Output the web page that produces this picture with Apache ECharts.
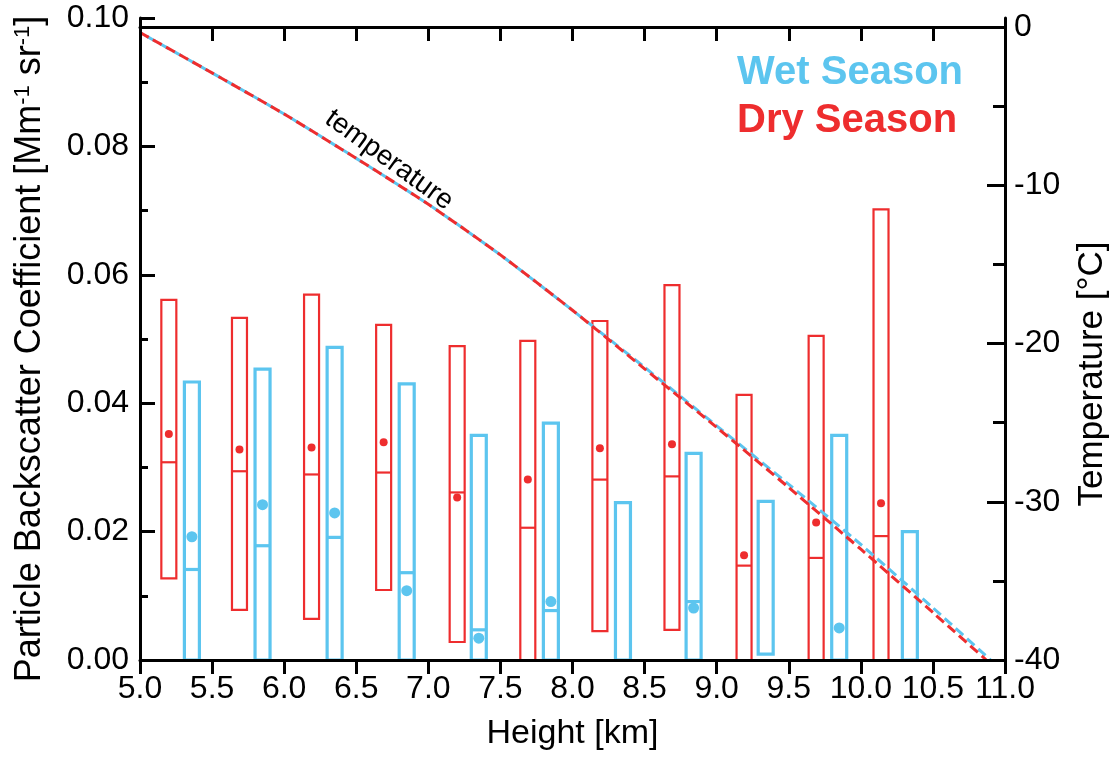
<!DOCTYPE html>
<html>
<head>
    <meta charset="utf-8">
    <title>Backscatter vs height</title>
    <script src="https://cdn.jsdelivr.net/npm/echarts/dist/echarts.min.js"></script>
    <style>
        html, body { margin: 0; padding: 0; background: #fff; }
        #chart1 { width: 1119px; height: 759px; }
    </style>
</head>
<body>
<div id="chart1"></div>
<script type="text/javascript">
    // dry season boxes (km, Mm-1 sr-1)
    var dryHeight = [5.20, 5.69, 6.19, 6.69, 7.20, 7.69, 8.19, 8.69, 9.19, 9.69, 10.14];
    var dryLow    = [0.0127, 0.0078, 0.0064, 0.0109, 0.0028, 0, 0.0045, 0.0047, 0, 0, 0];
    var dryHigh   = [0.0561, 0.0533, 0.0569, 0.0522, 0.0489, 0.0497, 0.0528, 0.0584, 0.0413, 0.0505, 0.0702];
    var dryMedian = [0.0308, 0.0294, 0.0289, 0.0292, 0.0261, 0.0206, 0.0281, 0.0286, 0.0147, 0.0159, 0.0193];
    var dryMean   = [0.0352, 0.0328, 0.0331, 0.0339, 0.0253, 0.0281, 0.0330, 0.0336, 0.0163, 0.0214, 0.0244];

    // wet season boxes
    var wetHeight = [5.36, 5.85, 6.35, 6.85, 7.35, 7.85, 8.35, 8.84, 9.34, 9.85, 10.34];
    var wetLow    = [0, 0, 0, 0, 0, 0, 0, 0, 0.0009, 0, 0];
    var wetHigh   = [0.0433, 0.0453, 0.0487, 0.0430, 0.0350, 0.0369, 0.0245, 0.0322, 0.0247, 0.0350, 0.0200];
    var wetMedian = [0.0141, 0.0178, 0.0191, 0.0136, 0.0047, 0.0077, null, 0.0091, null, null, null];
    var wetMean   = [0.0192, 0.0242, 0.0229, 0.0108, 0.0034, 0.0091, null, 0.0081, null, 0.0050, null];

    // temperature profiles (km, °C)
    var tempHeightWet = [5.0, 5.5, 6.0, 6.5, 7.0, 7.5, 8.0, 8.5, 9.0, 9.5, 10.0, 10.5, 10.9];
    var tempWet       = [-0.35, -2.9, -5.5, -8.3, -11.2, -14.4, -17.9, -21.5, -25.2, -28.9, -32.7, -36.7, -40];
    var tempHeightDry = [5.0, 5.5, 6.0, 6.5, 7.0, 7.5, 8.0, 8.5, 9.0, 9.5, 10.0, 10.5, 10.87];
    var tempDry       = [-0.35, -2.9, -5.5, -8.3, -11.2, -14.4, -17.9, -21.6, -25.3, -29.1, -33.0, -37.0, -40];

    var tempMajor = [-40, -30, -20, -10, 0];
    var tempMinor = [-35, -25, -15, -5];

    var RED = '#ee2d2e';
    var BLUE = '#5cc5ef';
    var FONT = 'Liberation Sans';

    function boxData(h, lo, hi, med, mean) {
        var out = [];
        for (var i = 0; i < h.length; i++) {
            out.push([h[i], lo[i], hi[i], med[i] == null ? NaN : med[i], mean[i] == null ? NaN : mean[i]]);
        }
        return out;
    }

    function lineData(h, t) {
        return h.map(function (v, i) { return [v, t[i]]; });
    }

    // draws one box: outline, median bar, mean dot
    function boxRender(color, lw, r) {
        return function (params, api) {
            var x = api.value(0);
            var top = api.coord([x, api.value(2)]);
            var bot = api.coord([x, api.value(1)]);
            var hw = 7.5;
            var kids = [{
                type: 'rect',
                shape: { x: top[0] - hw, y: top[1], width: hw * 2, height: bot[1] - top[1] },
                style: { fill: 'none', stroke: color, lineWidth: lw }
            }];
            var med = api.value(3);
            if (!isNaN(med)) {
                var m = api.coord([x, med]);
                kids.push({
                    type: 'line',
                    shape: { x1: m[0] - hw, y1: m[1], x2: m[0] + hw, y2: m[1] },
                    style: { stroke: color, lineWidth: lw }
                });
            }
            var mean = api.value(4);
            if (!isNaN(mean)) {
                var p = api.coord([x, mean]);
                kids.push({
                    type: 'circle',
                    shape: { cx: p[0], cy: p[1], r: r },
                    style: { fill: color }
                });
            }
            return { type: 'group', children: kids };
        };
    }

    var myChart1 = echarts.init(document.getElementById('chart1'));

    myChart1.setOption({
        animation: false,
        textStyle: { fontFamily: FONT },
        grid: { left: 140, right: 114, top: 18, bottom: 99 },
        xAxis: [{
            type: 'value',
            min: 5, max: 11, interval: 0.5,
            z: 5,
            name: 'Height [km]',
            nameLocation: 'middle',
            nameGap: 57,
            nameTextStyle: { fontSize: 34, color: '#000', fontFamily: FONT },
            axisLine: { lineStyle: { color: '#000', width: 3 } },
            axisTick: { length: 14, lineStyle: { color: '#000', width: 3 } },
            axisLabel: {
                fontSize: 32, color: '#000', margin: 13, fontFamily: FONT,
                formatter: function (v) { return v.toFixed(1); }
            },
            splitLine: { show: false }
        }, {
            type: 'value',
            position: 'top',
            min: 5, max: 11, interval: 0.5,
            z: 5,
            axisLine: { lineStyle: { color: '#000', width: 3 } },
            axisTick: { inside: true, length: 14, lineStyle: { color: '#000', width: 3 } },
            axisLabel: { show: false },
            splitLine: { show: false }
        }],
        yAxis: [{
            type: 'value',
            min: 0, max: 0.1, interval: 0.02,
            z: 5,
            axisLine: { lineStyle: { color: '#000', width: 3 } },
            axisTick: { inside: true, length: 15, lineStyle: { color: '#000', width: 3 } },
            minorTick: { show: true, splitNumber: 2, length: 8, lineStyle: { color: '#000', width: 3 } },
            axisLabel: {
                fontSize: 32, color: '#000', margin: 11, fontFamily: FONT,
                formatter: function (v) { return v.toFixed(2); }
            },
            splitLine: { show: false },
            minorSplitLine: { show: false }
        }, {
            type: 'value',
            position: 'right',
            min: -40, max: 0.57,
            z: 5,
            axisLine: { lineStyle: { color: '#000', width: 3 } },
            axisTick: { inside: true, length: 18, customValues: tempMajor, lineStyle: { color: '#000', width: 3 } },
            axisLabel: { fontSize: 32, color: '#000', margin: 9, fontFamily: FONT, customValues: tempMajor },
            splitLine: { show: false }
        }, {
            type: 'value',
            position: 'right',
            min: -40, max: 0.57,
            z: 5,
            axisLine: { show: false },
            axisTick: { inside: true, length: 12, customValues: tempMinor, lineStyle: { color: '#000', width: 3 } },
            axisLabel: { show: false },
            splitLine: { show: false }
        }],
        graphic: [{
            type: 'text', left: 737, top: 53,
            style: { text: 'Wet Season', fill: BLUE, font: 'bold 40px "Liberation Sans"' }
        }, {
            type: 'text', left: 737, top: 101,
            style: { text: 'Dry Season', fill: RED, font: 'bold 40px "Liberation Sans"' }
        }, {
            type: 'text', x: 389, y: 160, rotation: -36 * Math.PI / 180,
            style: { text: 'temperature', fill: '#000', font: '28px "Liberation Sans"', align: 'center', verticalAlign: 'middle' }
        }, {
            // left axis title with superscripts
            type: 'text', x: 30, y: 349, rotation: Math.PI / 2,
            style: {
                text: '{n|Particle Backscatter Coefficient [Mm}{s|-1}{n| sr}{s|-1}{n|]}',
                align: 'center', verticalAlign: 'middle',
                rich: {
                    n: { fontSize: 36, fill: '#000', fontFamily: FONT },
                    s: { fontSize: 22, fill: '#000', fontFamily: FONT, padding: [0, 0, 15, 0] }
                }
            }
        }, {
            type: 'text', x: 1092, y: 374, rotation: Math.PI / 2,
            style: { text: 'Temperature [°C]', fill: '#000', font: '35px "Liberation Sans"', align: 'center', verticalAlign: 'middle' }
        }],
        series: [{
            name: 'Dry Season',
            type: 'custom',
            clip: true,
            renderItem: boxRender(RED, 2.2, 4),
            encode: { x: 0, y: [1, 2] },
            data: boxData(dryHeight, dryLow, dryHigh, dryMedian, dryMean)
        }, {
            name: 'Wet Season',
            type: 'custom',
            clip: true,
            renderItem: boxRender(BLUE, 3.2, 5.5),
            encode: { x: 0, y: [1, 2] },
            data: boxData(wetHeight, wetLow, wetHigh, wetMedian, wetMean)
        }, {
            name: 'Wet temperature',
            type: 'line',
            yAxisIndex: 1,
            symbol: 'none',
            smooth: 0.2,
            lineStyle: { color: BLUE, width: 3, type: [10, 5], dashOffset: 7 },
            data: lineData(tempHeightWet, tempWet)
        }, {
            name: 'Dry temperature',
            type: 'line',
            yAxisIndex: 1,
            symbol: 'none',
            smooth: 0.2,
            lineStyle: { color: RED, width: 3, type: [10, 5] },
            data: lineData(tempHeightDry, tempDry)
        }]
    });
</script>
</body>
</html>
